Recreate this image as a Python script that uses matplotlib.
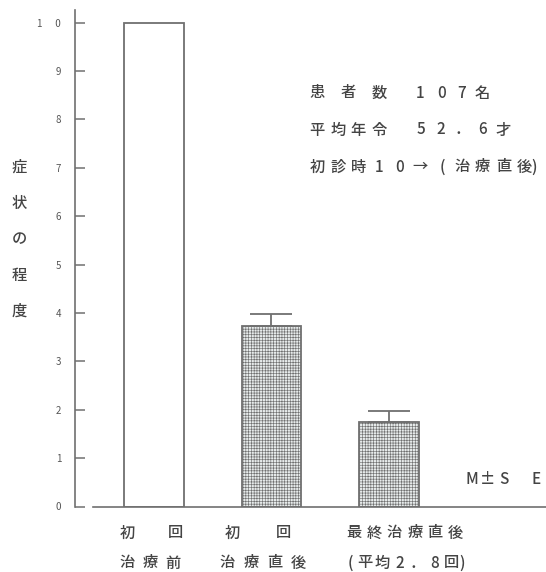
import matplotlib
matplotlib.use("Agg")
import matplotlib.pyplot as plt

plt.rcParams['font.family'] = ['Noto Sans CJK JP', 'DejaVu Sans']
plt.rcParams['hatch.color'] = '#c6cbcb'
plt.rcParams['hatch.linewidth'] = 0.45

# Symptom score (mean) and standard error per stage
stages_top = ["初  回", "初  回", "最終治療直後"]
stages_bottom = ["治療前", "治療直後", "(平均2．8回)"]
means = [10.0, 3.72, 1.74]
se = [0.0, 0.25, 0.23]
yticks = [0, 1, 2, 3, 4, 5, 6, 7, 8, 9, 10]
yticklabels = ["0", "1", "2", "3", "4", "5", "6", "7", "8", "9", "1      0"]
ylabel = "症状の程度"
notes = ["患 者 数  107名", "平均年令  52．6才", "初診時10→(治療直後)"]
stat_label = "M±S　E"

W, H = 546, 572
line_c = '#707070'
text_c = '#444444'
FS = 11


def spaced(x0, y0, s, pitch, shift=None):
    """Lay a string out cell by cell (pixel coordinates, x0/y0 = centre of
    the first cell). ASCII space advances half a cell, ideographic space a
    full cell, every other character one cell; `shift` nudges single
    characters inside their cell (fraction of a cell)."""
    shift = shift or {}
    x = x0
    for ch in s:
        if ch == ' ':
            x += pitch / 2
            continue
        if ch != '　':
            xc = x + shift.get(ch, 0.0) * pitch
            fig.text(xc / W, 1 - y0 / H, ch, ha='center', va='center',
                     fontsize=FS, color=text_c, fontweight='medium')
        x += pitch


fig = plt.figure(figsize=(W / 100, H / 100), dpi=100)
fig.patch.set_facecolor('white')
ax = fig.add_axes([75 / W, (H - 506.5) / H, (W - 75) / W, (506.5 - 10) / H])

x = list(range(len(means)))
fills = ['white', '#e7ebeb', '#e7ebeb']
hatches = [None, '++++++', '++++++']
for xi, m, fc, hc in zip(x, means, fills, hatches):
    ax.bar(xi, m, width=0.51, color=fc, edgecolor=line_c, linewidth=1.3,
           hatch=hc, zorder=2)

# upper-only error bars
for xi, m, e in zip(x, means, se):
    if e > 0:
        ax.errorbar(xi, m, yerr=[[0], [e]], fmt='none', ecolor=line_c,
                    elinewidth=1.3, capsize=15, capthick=1.3, zorder=3)

ax.set_xlim(-0.672, 3.336)
ax.set_ylim(0, 10.26)

for s in ['top', 'right']:
    ax.spines[s].set_visible(False)
for s in ['left', 'bottom']:
    ax.spines[s].set_color(line_c)
    ax.spines[s].set_linewidth(1.2)
ax.spines['bottom'].set_bounds(-0.52, 3.336)

ax.set_yticks(yticks)
ax.set_yticklabels(yticklabels)
ax.tick_params(axis='y', direction='in', length=7, width=1.1, color=line_c,
               labelsize=7, labelcolor='#555555', pad=10)
ax.set_xticks([])

# category labels under the axis, two rows each, placed around bar centres
fig.canvas.draw()
centres = [ax.transData.transform((xi, 0))[0] for xi in x]
row1 = [(-26.5, 24.25), (-39, 25.75), (-35, 20.3)]
row2 = [(-27, 23.0), (-44, 23.7), (-42, 17.5)]
paren_row2 = {'(': 0.17, ')': -0.4}
for c, t1, t2, (o1, p1), (o2, p2) in zip(centres, stages_top, stages_bottom,
                                         row1, row2):
    spaced(c + o1, 533, t1, p1)
    spaced(c + o2, 563, t2, p2, paren_row2)

# vertical axis title, one character per row
for i, ch in enumerate(ylabel):
    fig.text(19 / W, 1 - (167 + i * 36) / H, ch, ha='center', va='center',
             fontsize=FS, color=text_c, fontweight='medium')

for i, line in enumerate(notes):
    spaced(317, 93 + i * 37, line, 20.7, {'(': 0.05, ')': -0.5})

spaced(472, 479, stat_label, 16)

fig.savefig("out.png", dpi=100, facecolor='white')
